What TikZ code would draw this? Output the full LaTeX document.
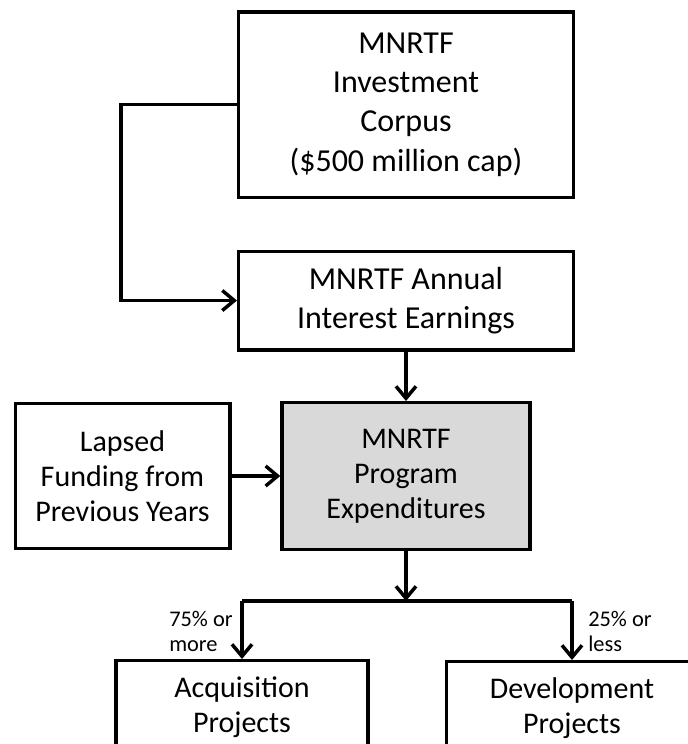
\documentclass[tikz,border=0pt]{standalone}
\usepackage{fontspec}
\setmainfont{Carlito}
\usetikzlibrary{arrows.meta,positioning}

\begin{document}
\begin{tikzpicture}[x=0.75pt,y=-0.75pt,
    box/.style={draw,line width=2.5pt,align=center,inner sep=0pt},
    bigbox/.style={box,font=\fontsize{24}{29.5}\selectfont},
    smallbox/.style={box,font=\fontsize{22.5}{26.25}\selectfont},
    flow/.style={-{Straight Barb[length=9pt,width=15pt]},line width=2.6pt},
    pct/.style={inner sep=0pt,align=left,font=\fontsize{16.8}{19}\selectfont}]
      \clip (0,0) rectangle (688,744);

      \coordinate (A) at (406,104.5);
      \coordinate (B) at (406,300.5);
      \coordinate (C) at (122.5,476);
      \coordinate (D) at (406,476);
      \coordinate (E) at (242,659);
      \coordinate (F) at (572,660);
      \coordinate (split) at (406,601);

      \node[bigbox,minimum width=251pt,minimum height=139pt] (corp) at (A)
        {MNRTF\\Investment\\Corpus\\(\$500 million cap)};
      \node[bigbox,minimum width=251pt,minimum height=74pt] (ann) at (B)
        {MNRTF Annual\\Interest Earnings};
      \node[smallbox,minimum width=161pt,minimum height=109pt] (lap) at (C)
        {Lapsed\\Funding from\\Previous Years};
      \node[smallbox,fill=black!15,minimum width=186pt,minimum height=110pt] (prog) at (D)
        {MNRTF\\Program\\Expenditures};
      \node[smallbox,anchor=north,minimum width=189pt,inner ysep=12pt,text depth=60pt] (acq) at (E)
        {Acquisition\\Projects};
      \node[smallbox,anchor=north,minimum width=188pt,inner ysep=12pt,text depth=60pt] (dev) at (F)
        {Development\\Projects};

      \node[pct,anchor=north west] (more) at (169,611) {75\% or\\more};
      \node[pct,anchor=north west] (less) at (588,611) {25\% or\\less};

      \draw[flow] (corp.west) -- ++(-116,0) |- (ann.west);
      \draw[flow] (ann) -- (prog);
      \draw[flow] (lap) -- (prog);
      \draw[flow] (prog) -- (split);
      \draw[line width=2.6pt] (acq.north |- split) -- (dev.north |- split);
      \draw[flow] (acq.north |- split) -- (acq);
      \draw[flow] (dev.north |- split) -- (dev);

    \end{tikzpicture}
\end{document}
